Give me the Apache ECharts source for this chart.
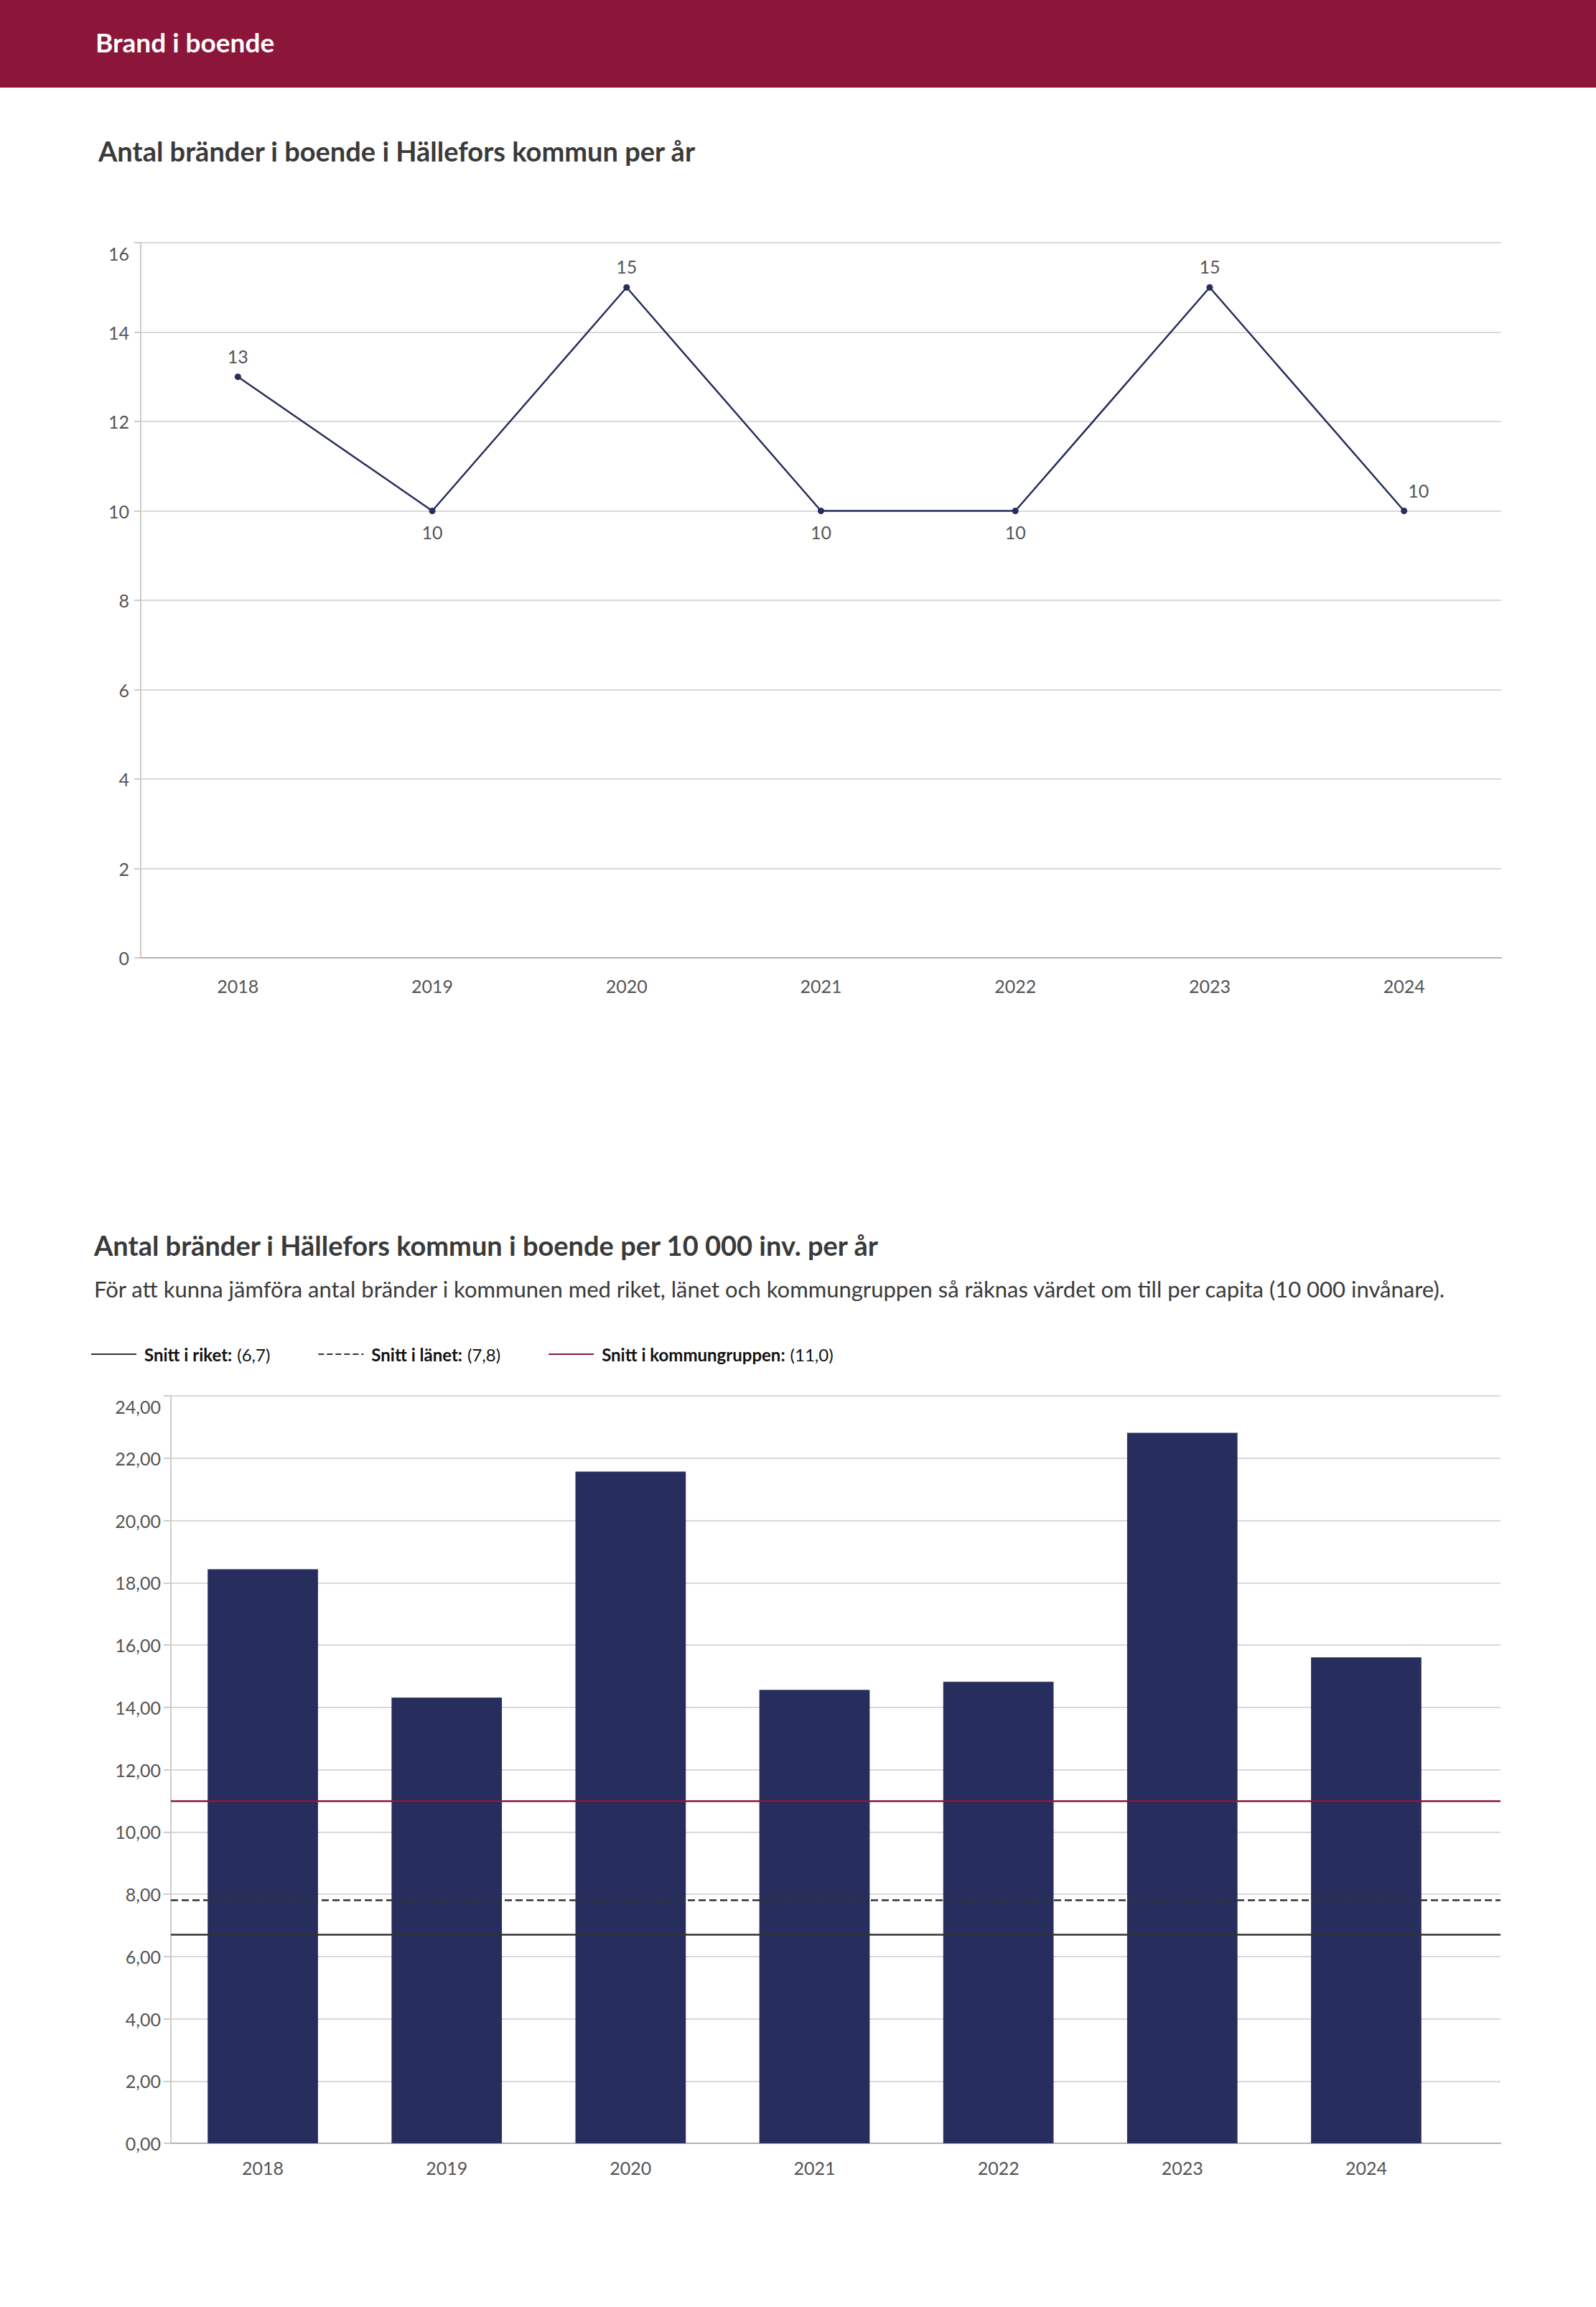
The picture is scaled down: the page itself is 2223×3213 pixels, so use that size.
<!DOCTYPE html>
<html>
<head>
<meta charset="utf-8">
<script src="https://cdn.jsdelivr.net/npm/echarts@6/dist/echarts.min.js"></script>
<style>
  html, body { margin: 0; padding: 0; background: #ffffff; }
  #chart { width: 2223px; height: 3213px; }
</style>
</head>
<body>
<div id="chart"></div>
<script>
// ---------- data ----------
const years = ['2018', '2019', '2020', '2021', '2022', '2023', '2024'];
const firesCount = [13, 10, 15, 10, 10, 15, 10];
const firesPer10k = [18.43, 14.31, 21.57, 14.56, 14.82, 22.81, 15.60];
const averageNames = ['Snitt i riket', 'Snitt i länet', 'Snitt i kommungruppen'];
const averageValues = [6.7, 7.8, 11.0];
const countTicks = { min: 0, max: 16, interval: 2 };
const rateTicks = { min: 0, max: 24, interval: 2 };

const headerText = 'Brand i boende';
const title1 = 'Antal bränder i boende i Hällefors kommun per år';
const title2 = 'Antal bränder i Hällefors kommun i boende per 10 000 inv. per år';
const subtitle2 = 'För att kunna jämföra antal bränder i kommunen med riket, länet och kommungruppen så räknas värdet om till per capita (10 000 invånare).';

// ---------- styles ----------
const FONT = 'Lato, "Open Sans", sans-serif';
const NAVY = '#272d5d';
const LABEL_GRAY = '#555555';
const GRID_GRAY = '#d9d9d9';
const avgStyles = [
  { color: '#333333', type: 'solid' },
  { color: '#333333', type: 'dashed' },
  { color: '#8b1a3e', type: 'solid' }
];
const pointLabelPlacement = [
  { position: 'top' }, { position: 'bottom' }, { position: 'top' },
  { position: 'bottom' }, { position: 'bottom' }, { position: 'top' },
  { position: 'top', offset: [20, 0] }
];

const fmtComma = (v, d) => v.toFixed(d).replace('.', ',');
// top tick label sits a little below its grid line in the reference
const topShift = (max, text, v) => (v === max ? '{t|' + text + '}' : text);
const topRich = { t: { fontSize: 25, color: LABEL_GRAY, fontFamily: FONT, padding: [30, 0, 0, 0] } };

const chart = echarts.init(document.getElementById('chart'), null, { renderer: 'svg' });

const option = {
  backgroundColor: '#ffffff',
  animation: false,
  textStyle: { fontFamily: FONT },
  graphic: [
    { type: 'rect', shape: { x: 0, y: 0, width: 2223, height: 122 }, style: { fill: '#8b1639' }, z: 0 },
    { type: 'text', x: 133, y: 58, style: { text: headerText, fill: '#ffffff', font: 'bold 37px ' + FONT, textVerticalAlign: 'middle' } },
    { type: 'text', x: 137, y: 210, style: { text: title1, fill: '#3a3a3a', font: 'bold 38px ' + FONT, textVerticalAlign: 'middle' } },
    { type: 'text', x: 131, y: 1734, style: { text: title2, fill: '#3a3a3a', font: 'bold 38px ' + FONT, textVerticalAlign: 'middle' } },
    { type: 'text', x: 131, y: 1795, style: { text: subtitle2, fill: '#3a3a3a', font: '31px ' + FONT, textVerticalAlign: 'middle' } }
  ],
  legend: {
    left: 121,
    top: 1869,
    itemWidth: 63,
    itemHeight: 3,
    itemGap: 66,
    itemStyle: { opacity: 0 },
    data: averageNames.map((n, i) => n + ': (' + fmtComma(averageValues[i], 1) + ')'),
    formatter: function (name) {
      const idx = name.lastIndexOf(' (');
      return '{b|' + name.slice(0, idx) + '}{n|' + name.slice(idx + 1) + '}';
    },
    textStyle: {
      padding: [0, 0, 0, 6],
      rich: {
        b: { fontFamily: FONT, fontWeight: 'bold', fontSize: 24, color: '#111111' },
        n: { fontFamily: FONT, fontSize: 24, color: '#111111', padding: [0, 0, 0, 7] }
      }
    }
  },
  grid: [
    { left: 196, right: 132, top: 338, height: 996 },
    { left: 238, right: 133, top: 1944, height: 1041 },
    { left: 238, right: 192, top: 1944, height: 1041 }
  ],
  xAxis: [
    {
      gridIndex: 0, type: 'category', data: years, boundaryGap: true,
      axisLine: { lineStyle: { color: '#b3b3b3', width: 2 } },
      axisTick: { show: false },
      axisLabel: { color: LABEL_GRAY, fontSize: 25, fontFamily: FONT, margin: 26 }
    },
    {
      gridIndex: 1, type: 'value', min: 0, max: 1,
      axisLine: { show: true, onZero: false, lineStyle: { color: '#b3b3b3', width: 2 } },
      axisTick: { show: false }, axisLabel: { show: false }, splitLine: { show: false }
    },
    {
      gridIndex: 2, type: 'category', data: years, boundaryGap: true,
      axisLine: { show: false }, axisTick: { show: false },
      axisLabel: { color: LABEL_GRAY, fontSize: 25, fontFamily: FONT, margin: 21 }
    }
  ],
  yAxis: [
    {
      gridIndex: 0, type: 'value', min: countTicks.min, max: countTicks.max, interval: countTicks.interval,
      axisLine: { show: true, lineStyle: { color: '#cccccc', width: 2 } },
      axisTick: { show: true, length: 9, lineStyle: { color: '#cccccc', width: 2 } },
      axisLabel: {
        color: LABEL_GRAY, fontSize: 25, fontFamily: FONT, margin: 16,
        formatter: v => topShift(countTicks.max, String(v), v), rich: topRich
      },
      splitLine: { lineStyle: { color: GRID_GRAY, width: 2 } }
    },
    {
      gridIndex: 1, type: 'value', min: rateTicks.min, max: rateTicks.max, interval: rateTicks.interval,
      axisLine: { show: true, lineStyle: { color: '#cccccc', width: 2 } },
      axisTick: { show: true, length: 10, lineStyle: { color: '#cccccc', width: 2 } },
      axisLabel: {
        color: LABEL_GRAY, fontSize: 25, fontFamily: FONT, margin: 14,
        formatter: v => topShift(rateTicks.max, fmtComma(v, 2), v), rich: topRich
      },
      splitLine: { lineStyle: { color: GRID_GRAY, width: 2 } }
    },
    {
      gridIndex: 2, type: 'value', min: rateTicks.min, max: rateTicks.max, interval: rateTicks.interval, show: false,
      splitLine: { show: false }
    }
  ],
  series: [
    {
      type: 'line', xAxisIndex: 0, yAxisIndex: 0, name: 'Antal bränder',
      data: firesCount.map((v, i) => ({
        value: v,
        label: Object.assign({ show: true, distance: 12 }, pointLabelPlacement[i])
      })),
      symbol: 'circle', symbolSize: 9,
      lineStyle: { color: NAVY, width: 2.5 },
      itemStyle: { color: NAVY },
      label: { color: LABEL_GRAY, fontSize: 25, fontFamily: FONT },
      z: 3
    },
    {
      type: 'bar', xAxisIndex: 2, yAxisIndex: 2, name: 'Per 10 000 inv.',
      data: firesPer10k, barWidth: '60%',
      itemStyle: { color: NAVY },
      z: 2
    }
  ].concat(averageNames.map((n, i) => ({
    type: 'line', xAxisIndex: 1, yAxisIndex: 1,
    name: n + ': (' + fmtComma(averageValues[i], 1) + ')',
    data: [],
    symbol: 'none',
    lineStyle: { color: avgStyles[i].color, type: avgStyles[i].type, width: 2.5 },
    itemStyle: { color: 'rgba(0,0,0,0)', borderWidth: 0 },
    z: 5,
    markLine: {
      silent: true, symbol: 'none', label: { show: false },
      lineStyle: { color: avgStyles[i].color, type: avgStyles[i].type, width: 2.5 },
      data: [{ yAxis: averageValues[i] }]
    }
  })))
};

chart.setOption(option);
</script>
</body>
</html>
